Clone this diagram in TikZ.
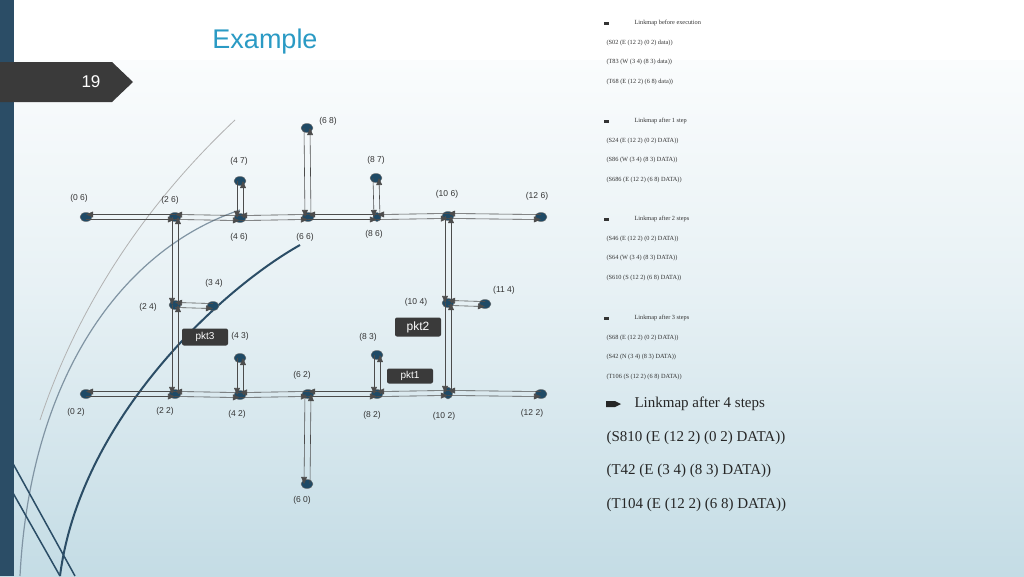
\documentclass[tikz,border=0pt]{standalone}
\usepackage{fontspec}
\setmainfont{Liberation Serif}
\setsansfont{Liberation Sans}
\usepackage{tikz}
\usetikzlibrary{arrows,shapes.geometric}
\definecolor{nodeblue}{HTML}{1F4A66}
\definecolor{titleblue}{HTML}{2A9AC4}
\definecolor{tabgray}{HTML}{3A3A3A}
\definecolor{bgblue}{HTML}{C4DCE5}
\definecolor{swoosh}{HTML}{2B4D66}
\tikzset{
  site/.style={ellipse,fill=nodeblue,draw=black!60,minimum width=12pt,minimum height=9pt,inner sep=0pt},
  coord/.style={font=\sffamily\fontsize{8.5}{9}\selectfont,text=black!80},
  link/.style={draw=black!70,line width=0.6pt,-triangle 45},
  pkt/.style={fill=tabgray,rounded corners=2pt,text=white,font=\sffamily\fontsize{10}{10}\selectfont,minimum width=46pt,minimum height=17pt,inner sep=0pt},
  lm/.style={anchor=west,font=\fontsize{6.3}{7}\selectfont,text=black!80},
  lmbig/.style={anchor=west,font=\fontsize{15}{16}\selectfont,text=black!85}
}
% horizontal and vertical pairs of opposite links
\newcommand{\hpair}[2]{\draw[link] ([yshift=-2.5]#1.center) -- ([yshift=-2.5]#2.center);
  \draw[link] ([yshift=2.5]#2.center) -- ([yshift=2.5]#1.center);}
\newcommand{\vpair}[2]{\draw[link] ([xshift=-3]#1.center) -- ([xshift=-3]#2.center);
  \draw[link] ([xshift=3]#2.center) -- ([xshift=3]#1.center);}
\begin{document}
\begin{tikzpicture}[x=1pt,y=-1pt]
\useasboundingbox (0,0) rectangle (1024,576);
\shade[top color=white,bottom color=bgblue,middle color=white!60!bgblue] (0,0) rectangle (1024,576);
\fill[white] (0,0) rectangle (1024,60);

% left decoration
\fill[swoosh] (0,0) rectangle (14,576);
\draw[swoosh,line width=2pt] (60,576) .. controls (80,420) and (220,290) .. (300,245);
\draw[swoosh!60,line width=1.2pt] (20,576) .. controls (30,380) and (120,250) .. (240,210);
\draw[black!30,line width=0.8pt] (40,420) .. controls (80,300) and (150,200) .. (235,120);
\draw[swoosh,line width=1.5pt] (0,470) -- (60,576);
\draw[swoosh,line width=1.5pt] (0,440) -- (75,576);
\fill[tabgray] (0,62) -- (112,62) -- (133,82) -- (112,102) -- (0,102) -- cycle;
\node[text=white,font=\sffamily\fontsize{17}{17}\selectfont] (pageno) at (91,82) {19};
\node[text=titleblue,font=\sffamily\fontsize{27}{27}\selectfont] (title) at (265,42) {Example};

% sites
\node[site] (s06) at (86,217) {};
\node[site] (s26) at (175,217) {};
\node[site] (s46) at (240,218) {};
\node[site] (s66) at (308,217) {};
\node[site,minimum width=8pt] (s86) at (377,217) {};
\node[site] (s106) at (448,216) {};
\node[site] (s126) at (541,217) {};
\node[site] (s47) at (240,181) {};
\node[site] (s68) at (307,128) {};
\node[site] (s87) at (376,178) {};
\node[site] (s24) at (175,305) {};
\node[site] (s34) at (213,306) {};
\node[site] (s104) at (448,303) {};
\node[site] (s114) at (485,304) {};
\node[site] (s43) at (240,358) {};
\node[site] (s83) at (377,355) {};
\node[site] (s02) at (86,394) {};
\node[site] (s22) at (175,394) {};
\node[site] (s42) at (240,395) {};
\node[site] (s62) at (308,394) {};
\node[site] (s82) at (377,394) {};
\node[site,minimum width=9pt,minimum height=12pt] (s102) at (448,393) {};
\node[site] (s122) at (541,394) {};
\node[site] (s60) at (307,484) {};

% links
\hpair{s06}{s26} \hpair{s26}{s46} \hpair{s46}{s66}
\hpair{s66}{s86} \hpair{s86}{s106} \hpair{s106}{s126}
\hpair{s02}{s22} \hpair{s22}{s42} \hpair{s42}{s62}
\hpair{s62}{s82} \hpair{s82}{s102} \hpair{s102}{s122}
\hpair{s24}{s34} \hpair{s104}{s114}
\vpair{s47}{s46} \vpair{s68}{s66} \vpair{s87}{s86}
\vpair{s26}{s24} \vpair{s24}{s22}
\vpair{s106}{s104} \vpair{s104}{s102}
\vpair{s43}{s42} \vpair{s83}{s82} \vpair{s62}{s60}

% coordinate labels
\node[coord] (l68) at (328,121) {(6 8)};
\node[coord] (l47) at (239,161) {(4 7)};
\node[coord] (l87) at (376,160) {(8 7)};
\node[coord] (l06) at (79,198) {(0 6)};
\node[coord] (l26) at (170,200) {(2 6)};
\node[coord] (l106) at (447,194) {(10 6)};
\node[coord] (l126) at (537,196) {(12 6)};
\node[coord] (l46) at (239,237) {(4 6)};
\node[coord] (l66) at (305,237) {(6 6)};
\node[coord] (l86) at (374,234) {(8 6)};
\node[coord] (l34) at (214,283) {(3 4)};
\node[coord] (l114) at (504,290) {(11 4)};
\node[coord] (l24) at (148,307) {(2 4)};
\node[coord] (l104) at (416,302) {(10 4)};
\node[coord] (l43) at (240,336) {(4 3)};
\node[coord] (l83) at (368,337) {(8 3)};
\node[coord] (l62) at (302,375) {(6 2)};
\node[coord] (l02) at (76,412) {(0 2)};
\node[coord] (l22) at (165,411) {(2 2)};
\node[coord] (l42) at (237,414) {(4 2)};
\node[coord] (l82) at (372,415) {(8 2)};
\node[coord] (l102) at (444,416) {(10 2)};
\node[coord] (l122) at (532,413) {(12 2)};
\node[coord] (l60) at (302,500) {(6 0)};

% packets
\node[pkt] (pkt3) at (205,337) {pkt3};
\node[pkt,minimum height=19pt,font=\sffamily\fontsize{12}{12}\selectfont] (pkt2) at (418,327) {pkt2};
\node[pkt,minimum height=15pt] (pkt1) at (410,376) {pkt1};

% linkmaps
\foreach \y/\head/\a/\b/\c in {
  23/{Linkmap before execution}/{(S02 (E (12 2) (0 2) data))}/{(T83 (W (3 4) (8 3) data))}/{(T68 (E (12 2) (6 8) data))},
  121/{Linkmap after 1 step}/{(S24 (E (12 2) (0 2) DATA))}/{(S86 (W (3 4) (8 3) DATA))}/{(S686 (E (12 2) (6 8) DATA))},
  219/{Linkmap after 2 steps}/{(S46 (E (12 2) (0 2) DATA))}/{(S64 (W (3 4) (8 3) DATA))}/{(S610 (S (12 2) (6 8) DATA))},
  318/{Linkmap after 3 steps}/{(S68 (E (12 2) (0 2) DATA))}/{(S42 (N (3 4) (8 3) DATA))}/{(T106 (S (12 2) (6 8) DATA))}} {
  \fill[black!80] (604,\y-1.5) rectangle (609,\y+1.5);
  \node[lm] at (631,\y) {\head};
  \node[lm] at (603,\y+20) {\a};
  \node[lm] at (603,\y+39) {\b};
  \node[lm] at (603,\y+59) {\c};
}
\fill[black!85] (606,401) -- (615,401) -- (621,404) -- (615,407) -- (606,407) -- cycle;
\node[lmbig] (h4) at (631,404) {Linkmap after 4 steps};
\node[lmbig] (m1) at (603,438) {(S810 (E (12 2) (0 2) DATA))};
\node[lmbig] (m2) at (603,471) {(T42 (E (3 4) (8 3) DATA))};
\node[lmbig] (m3) at (603,505) {(T104 (E (12 2) (6 8) DATA))};
\end{tikzpicture}
\end{document}
